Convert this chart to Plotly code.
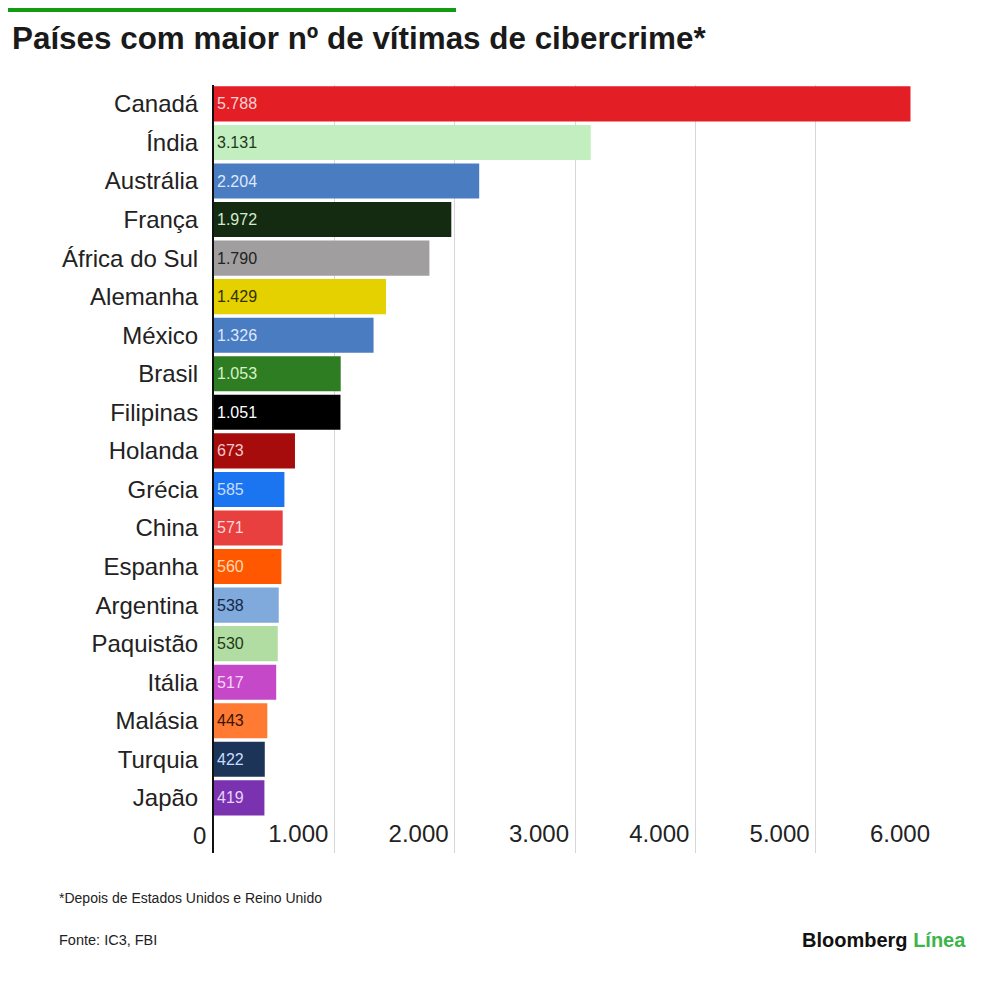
import plotly.graph_objects as go

# Data
countries = ["Canadá", "Índia", "Austrália", "França", "África do Sul", "Alemanha",
             "México", "Brasil", "Filipinas", "Holanda", "Grécia", "China", "Espanha",
             "Argentina", "Paquistão", "Itália", "Malásia", "Turquia", "Japão"]
victims = [5788, 3131, 2204, 1972, 1790, 1429, 1326, 1053, 1051, 673, 585, 571, 560,
           538, 530, 517, 443, 422, 419]
value_labels = ["5.788", "3.131", "2.204", "1.972", "1.790", "1.429", "1.326", "1.053",
                "1.051", "673", "585", "571", "560", "538", "530", "517", "443", "422", "419"]
bar_colors = ["#e31e25", "#c3eec0", "#4a7cc1", "#142b12", "#a09e9e", "#e5d100",
              "#4a7cc1", "#2f7d22", "#000000", "#a70c0c", "#1b74f0", "#e83f3f", "#ff5800",
              "#80a9dc", "#b1dca2", "#c548c9", "#ff7a33", "#1b3458", "#7a32b0"]
text_colors = ["#f8d4d4", "#1d3a1b", "#dbe8ff", "#d3e9cb", "#222222", "#333000",
               "#dbe8ff", "#d6f2c8", "#ffffff", "#f6c8c8", "#c6deff", "#fcd8d8", "#ffd8b0",
               "#14264a", "#1c3a18", "#fbd4fb", "#3a1400", "#c6dcff", "#e6d4f8"]
x_ticks = [0, 1000, 2000, 3000, 4000, 5000, 6000]
x_tick_labels = ["0", "1.000", "2.000", "3.000", "4.000", "5.000", "6.000"]

TITLE = "Países com maior nº de vítimas de cibercrime*"
NOTE = "*Depois de Estados Unidos e Reino Unido"
SOURCE = "Fonte: IC3, FBI"

FONT = "Liberation Sans, Arial, sans-serif"
W, H = 1000, 981
# page body adds an 8px offset, so layout numbers are in figure pixels
L, R, T, B = 206, 72, 77, 136
PW, PH = W - L - R, H - T - B


def py(fig_y):
    """figure pixel row -> paper y"""
    return (T + PH - fig_y) / PH


def px(fig_x):
    """figure pixel column -> paper x"""
    return (fig_x - L) / PW


fig = go.Figure()
fig.add_trace(go.Bar(
    x=victims, y=countries, orientation="h",
    marker=dict(color=bar_colors, line=dict(width=0)),
    text=value_labels, textposition="inside", insidetextanchor="start",
    textfont=dict(family=FONT, size=16, color=text_colors),
    textangle=0, hoverinfo="x+y",
))

fig.update_layout(
    width=W, height=H,
    paper_bgcolor="white", plot_bgcolor="white",
    margin=dict(l=L, r=R, t=T, b=B),
    bargap=0.09,
    showlegend=False,
    title=dict(text="<b>" + TITLE + "</b>", x=4 / W, xanchor="left", xref="container",
               y=1 - 30 / H, yanchor="middle", yref="container",
               font=dict(family=FONT, size=31.4, color="#1a1a1a")),
    xaxis=dict(range=[0, 6000], tickvals=x_ticks, ticktext=x_tick_labels,
               showgrid=True, gridcolor="#d6d6d6", gridwidth=1, zeroline=False,
               ticks="", ticklabelposition="inside left", ticklabelshift=-6,
               tickfont=dict(family=FONT, size=24, color="#222222"),
               showline=False, fixedrange=True),
    yaxis=dict(autorange=False, range=[19.43, -0.49], type="category",
               categoryorder="array", categoryarray=countries,
               showline=True, linecolor="#111111", linewidth=2, mirror=False,
               ticks="", ticklabelstandoff=9,
               tickfont=dict(family=FONT, size=24, color="#222222"),
               showgrid=False, fixedrange=True),
)

# the "0" label sits left of the axis line (inside labels would be hidden there)
fig.add_annotation(text=x_tick_labels[0], xref="x", yref="paper",
                   x=x_ticks[0], y=py(827), xanchor="right", yanchor="middle",
                   xshift=-6, showarrow=False,
                   font=dict(family=FONT, size=24, color="#222222"))

# green accent bar at the very top
fig.add_shape(type="rect", xref="paper", yref="paper",
              x0=px(0), x1=px(448), y0=py(4), y1=py(0),
              fillcolor="#129c12", line=dict(width=0), layer="above")

fig.add_annotation(text=NOTE, xref="paper", yref="paper",
                   x=px(49), y=py(890), xanchor="left", yanchor="middle", showarrow=False,
                   font=dict(family=FONT, size=14, color="#222222"))
fig.add_annotation(text=SOURCE, xref="paper", yref="paper",
                   x=px(49), y=py(932), xanchor="left", yanchor="middle", showarrow=False,
                   font=dict(family=FONT, size=14.5, color="#222222"))
fig.add_annotation(text="<b>Bloomberg</b> <b><span style='color:#3cb54a'>Línea</span></b>",
                   xref="paper", yref="paper",
                   x=px(960), y=py(932), xanchor="right", yanchor="middle", showarrow=False,
                   font=dict(family=FONT, size=20, color="#111111"))

fig.write_html("out.html")
